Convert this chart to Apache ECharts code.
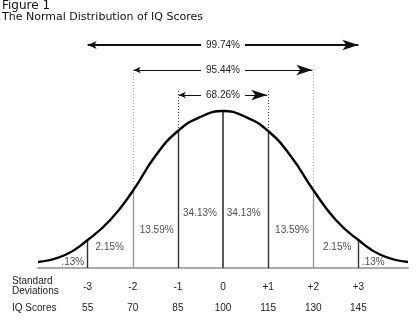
<!DOCTYPE html>
<html>
<head>
<meta charset="utf-8">
<style>
  html, body { margin: 0; padding: 0; background: #fff; }
  #chart { width: 420px; height: 323px; }
</style>
<script src="https://cdn.jsdelivr.net/npm/echarts@6/dist/echarts.min.js"></script>
</head>
<body>
<div id="chart"></div>
<script>
// Standard deviation positions and their labels
const sdTicks = [-3, -2, -1, 0, 1, 2, 3];
const sdLabels = ['-3', '-2', '-1', '0', '+1', '+2', '+3'];
const iqLabels = ['55', '70', '85', '100', '115', '130', '145'];

// Bell curve outline (x in standard deviations, height in chart units)
const curveX = [-4.1, -3.5, -3, -2.5, -2, -1.5, -1, -0.5, 0, 0.5, 1, 1.5, 2, 2.5, 3, 3.5, 4.1];
const curveY = [6, 13, 28, 48, 77, 112, 137, 151, 157, 151, 137, 112, 78, 48, 28, 13, 6];

// Area percentages written under the curve
const pctLabels = ['.13%', '2.15%', '13.59%', '34.13%', '34.13%', '13.59%', '2.15%', '.13%'];
const pctX = [-3.33, -2.51, -1.47, -0.51, 0.46, 1.53, 2.53, 3.33];
const pctY = [6, 21, 38, 55, 55, 38, 21, 6];

// Span arrows: label, from/to (SD) and height
const spanLabels = ['99.74%', '95.44%', '68.26%'];
const spanFrom = [-3, -1.98, -0.98];
const spanTo = [3, 1.98, 0.98];
const spanY = [223, 198, 173];

const FONT = 'Liberation Sans';
const TEXT = '#222';

function heightAt(x) {
  return curveY[curveX.indexOf(x)];
}

const curveData = curveX.map((x, i) => [x, curveY[i]]);

// Vertical guide lines: solid below the curve, dotted above it
const guideLines = [];
sdTicks.forEach(k => {
  const h = heightAt(k);
  const a = Math.abs(k);
  const lowColor = a === 2 ? '#999' : '#333';
  guideLines.push([
    { coord: [k, 0], lineStyle: { color: lowColor, width: a === 0 ? 1.6 : 1.4, type: 'solid' } },
    { coord: [k, h] }
  ]);
  if (a > 0) {
    const top = spanY[3 - a] + (a === 1 ? 4 : 2);
    guideLines.push([
      { coord: [k, h], lineStyle: { color: a === 2 ? '#aaa' : '#444', width: a === 3 ? 1.4 : 1, type: [1, 2] } },
      { coord: [k, top] }
    ]);
  }
});

const spanLines = spanLabels.map((t, i) => [
  {
    coord: [spanFrom[i], spanY[i]],
    symbol: 'arrow',
    symbolSize: i === 0 ? [6, 9] : [5, 7],
    lineStyle: { color: '#111', width: i === 0 ? 2 : 1, type: 'solid' },
    label: {
      show: true, position: 'insideMiddle', formatter: t,
      color: TEXT, fontFamily: FONT, fontSize: 10,
      backgroundColor: '#fff', padding: [1, 5], distance: 0
    }
  },
  { coord: [spanTo[i], spanY[i]], symbol: 'arrow' }
]);

const chart = echarts.init(document.getElementById('chart'), null, { renderer: 'canvas' });

chart.setOption({
  animation: false,
  backgroundColor: '#fff',
  grid: { left: 38, right: 12, top: 45, bottom: 55 },
  xAxis: [
    {
      type: 'value', min: -4.1, max: 4.1,
      splitLine: { show: false },
      axisTick: { show: false },
      axisLine: { show: true, lineStyle: { color: '#aaa', width: 2 } },
      axisLabel: {
        customValues: sdTicks,
        formatter: v => sdLabels[sdTicks.indexOf(Math.round(v))],
        margin: 14, color: TEXT, fontFamily: FONT, fontSize: 10
      }
    },
    {
      type: 'value', min: -4.1, max: 4.1, position: 'bottom', offset: 21,
      splitLine: { show: false },
      axisTick: { show: false },
      axisLine: { show: false },
      axisLabel: {
        customValues: sdTicks,
        formatter: v => iqLabels[sdTicks.indexOf(Math.round(v))],
        margin: 14, color: TEXT, fontFamily: FONT, fontSize: 10
      }
    }
  ],
  yAxis: { type: 'value', min: 0, max: 223, show: false, splitLine: { show: false } },
  graphic: [
    { type: 'text', left: 2, top: 0, style: { text: 'Figure 1', font: '500 12px "DejaVu Sans"', fill: '#111' } },
    { type: 'text', left: 2, top: 12, style: { text: 'The Normal Distribution of IQ Scores', font: '11px "DejaVu Sans"', fill: '#111' } },
    { type: 'text', left: 12, top: 276, style: { text: 'Standard\nDeviations', font: '10px "Liberation Sans"', lineHeight: 10, fill: TEXT } },
    { type: 'text', left: 12, top: 303, style: { text: 'IQ Scores', font: '10px "Liberation Sans"', fill: TEXT } }
  ],
  series: [
    {
      type: 'line',
      data: curveData,
      smooth: 0.5,
      symbol: 'none',
      lineStyle: { color: '#000', width: 2.4 },
      z: 5,
      markLine: {
        silent: true,
        symbol: 'none',
        label: { show: false },
        data: guideLines.concat(spanLines),
        z: 3
      }
    },
    {
      type: 'scatter',
      symbolSize: 0,
      data: pctX.map((x, i) => ({ value: [x, pctY[i]], name: pctLabels[i] })),
      label: {
        show: true, position: 'inside', formatter: p => p.name,
        color: TEXT, fontFamily: FONT, fontSize: 10
      },
      z: 6
    }
  ]
});
</script>
</body>
</html>
